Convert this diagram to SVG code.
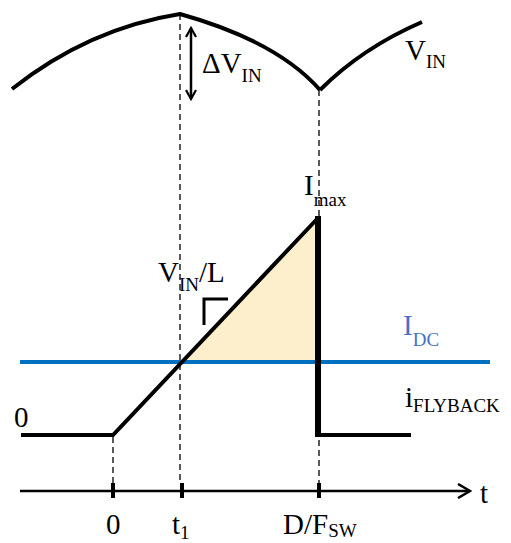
<svg xmlns="http://www.w3.org/2000/svg" width="511" height="543" viewBox="0 0 511 543">
<style>
.m{font-size:29px}
.s{font-size:19px}
.w{fill:none;stroke:#000;stroke-width:4}
.d{fill:none;stroke:#000;stroke-width:1.3;stroke-dasharray:6,4}
</style>
<defs>
<marker id="ah" viewBox="0 0 12 12" refX="10" refY="6" markerWidth="12" markerHeight="12" markerUnits="userSpaceOnUse" orient="auto-start-reverse">
<path d="M1,1 L10,6 L1,11" fill="none" stroke="#000" stroke-width="2.2"/>
</marker>
<marker id="ta" viewBox="0 0 16 16" refX="14" refY="8" markerWidth="16" markerHeight="16" markerUnits="userSpaceOnUse" orient="auto">
<path d="M2,1 L14,8 L2,15" fill="none" stroke="#000" stroke-width="2.5"/>
</marker>
</defs>
<g id="fill">
<polygon points="180,362 318,218 318,362" fill="#FDEFCB"/>
</g>
<g id="connectors">
<line class="d" x1="180" y1="14" x2="180" y2="484"/>
<line class="d" x1="319" y1="90" x2="319" y2="484"/>
<line class="d" x1="113" y1="437" x2="113" y2="484"/>
<line x1="191" y1="28" x2="191" y2="99" stroke="#000" stroke-width="2.5" marker-start="url(#ah)" marker-end="url(#ah)"/>
<line x1="20" y1="491" x2="470" y2="491" stroke="#000" stroke-width="2.5" marker-end="url(#ta)"/>
<line x1="113" y1="483" x2="113" y2="498" stroke="#000" stroke-width="4"/>
<line x1="182" y1="483" x2="182" y2="498" stroke="#000" stroke-width="4"/>
<line x1="319" y1="483" x2="319" y2="498" stroke="#000" stroke-width="4"/>
</g>
<g id="vin-curve">
<path class="w" d="M12,89 C55,55 110,25 180,14 C230,28 285,50 320,90"/>
<path class="w" d="M320,90 C350,60 385,38 422,22"/>
</g>
<g id="idc-line">
<line x1="20" y1="362" x2="490" y2="362" stroke="#0070C0" stroke-width="4"/>
</g>
<g id="waveform">
<path class="w" d="M21,435 L113,435 L318,218"/>
<line x1="318" y1="216" x2="318" y2="437" stroke="#000" stroke-width="6"/>
<path class="w" d="M321,435 L411,435"/>
<path fill="none" stroke="#000" stroke-width="3" d="M204,325 L204,299 L228,299"/>
</g>
<g id="labels" font-family="'Liberation Serif', 'Times New Roman', serif" fill="#000">
<text class="m" x="202" y="73">ΔV<tspan class="s" dy="9">IN</tspan></text>
<text class="m" x="405" y="60">V<tspan class="s" dy="8">IN</tspan></text>
<text class="m" x="304" y="195">I<tspan class="s" dy="11">max</tspan></text>
<text class="m" x="158" y="282">V<tspan class="s" dy="9">IN</tspan><tspan dy="-9">/L</tspan></text>
<text class="m" x="403" y="335" fill="#4472C4">I<tspan class="s" dy="11">DC</tspan></text>
<text class="m" x="405" y="407">i<tspan class="s" dy="5">FLYBACK</tspan></text>
<text class="m" x="14" y="427">0</text>
<text class="m" x="480" y="503">t</text>
<text class="m" x="106" y="534">0</text>
<text class="m" x="172" y="534">t<tspan class="s" dy="5">1</tspan></text>
<text class="m" x="283" y="534">D/F<tspan class="s" dy="3">SW</tspan></text>
</g>
</svg>
